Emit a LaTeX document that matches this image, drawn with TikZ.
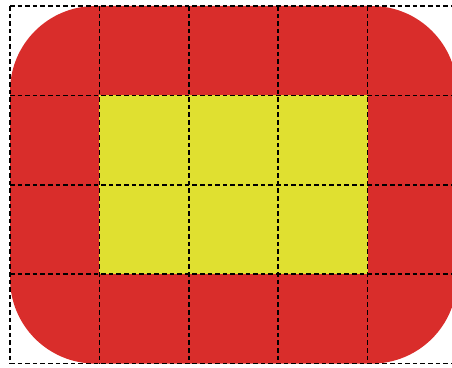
\documentclass[tikz,border=0pt]{standalone}

\definecolor{cellred}{RGB}{217,45,43}
\definecolor{cellyellow}{RGB}{224,224,48}

\tikzset{every picture/.style={line width=0.75pt}}
\tikzset{gridline/.style={black,line width=1.2pt,dash pattern=on 3.5pt off 2.2pt}}

\begin{document}
\begin{tikzpicture}[x=0.75pt,y=0.75pt,yscale=-1,xscale=1]
%set diagram left start at 0, and has height of 367
\useasboundingbox (0,0) rectangle (452,367);
\clip (0,0) rectangle (452,367);

%Shape: Rounded Rect [id:outer]
\fill [cellred, rounded corners=64pt] (10,6) rectangle (457,363.6) ;
%Shape: Rectangle [id:inner]
\fill [cellyellow] (99.4,95.4) rectangle (367.6,274.2) ;

%Grid Lines [id:grid]
\foreach \i in {0,...,5}
  \draw [gridline] ({10+89.4*\i},6) -- ({10+89.4*\i},363.6) ;
\foreach \j in {0,...,4}
  \draw [gridline] (10,{6+89.4*\j}) -- (457,{6+89.4*\j}) ;

\end{tikzpicture}
\end{document}
